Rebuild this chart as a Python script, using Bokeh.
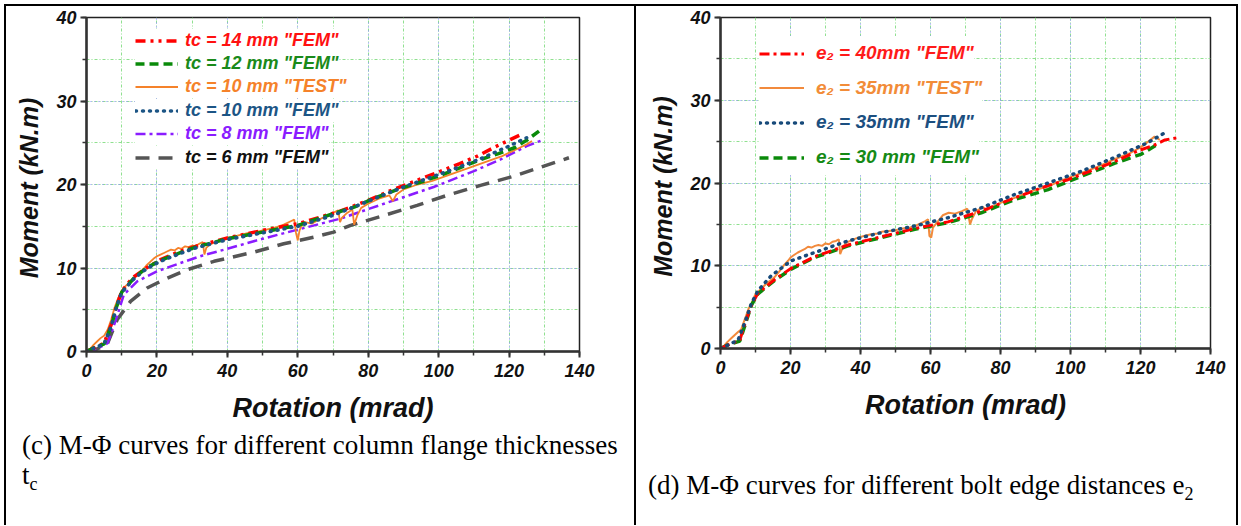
from bokeh.plotting import figure
from bokeh.models import Range1d, SingleIntervalTicker, Legend, LegendItem, Div
from bokeh.layouts import row, column
from bokeh.embed import file_html
from bokeh.resources import INLINE

# ---------------- data: chart (c) column flange thickness ----------------
tc14_x = [0, 2, 5, 7, 8.5, 10, 13, 17, 21, 26, 31, 40, 50, 60, 72, 80, 86, 92, 100, 106, 111, 116, 120, 123.5]
tc14_y = [0, 0.4, 1.0, 3.2, 5.4, 7.2, 8.8, 10.0, 11.0, 11.9, 12.6, 13.6, 14.5, 15.3, 16.8, 18.1, 19.2, 20.2, 21.5, 22.5, 23.4, 24.5, 25.3, 26.0]

tc12_x = [0, 2, 5, 7, 8.5, 10, 13.5, 17, 21, 27, 31, 40, 50, 60, 70, 76, 82, 89, 95, 100.5, 106, 112, 117, 121.5, 125, 128.5]
tc12_y = [0, 0.4, 0.9, 3.0, 5.3, 7.1, 8.8, 10.0, 10.9, 11.9, 12.5, 13.5, 14.3, 15.1, 16.5, 17.3, 18.4, 19.5, 20.3, 21.1, 22.0, 23.0, 23.7, 24.4, 25.3, 26.4]

tc10_test_x = [0, 1, 2, 3, 4, 5, 6, 7, 8, 9, 10, 11, 12, 13, 14.5, 16, 17, 18, 19, 20, 21, 22, 23, 24, 25, 26, 27, 28, 29, 30, 31, 32, 33, 33.5, 34, 35, 36, 38, 40, 42, 44, 46, 48, 50, 52, 54, 56, 58, 59, 59.5, 60, 60.5, 61, 62, 64, 66, 68, 70, 71.5, 72, 72.5, 74, 75.5, 76, 77, 78, 80, 83, 86, 87, 88, 90, 94, 98, 102, 106, 110, 114, 118, 121, 123, 125, 126.5]
tc10_test_y = [0, 0.3, 0.8, 1.2, 1.6, 1.9, 2.6, 3.8, 5.3, 6.4, 7.3, 7.8, 8.2, 8.6, 9.2, 9.8, 10.3, 10.7, 11.1, 11.4, 11.6, 11.8, 12.0, 12.2, 12.1, 12.4, 12.3, 12.6, 12.5, 12.7, 12.6, 12.9, 13.1, 11.6, 12.4, 12.8, 13.0, 13.3, 13.6, 13.8, 14.0, 14.2, 14.3, 14.5, 14.7, 14.9, 15.2, 15.6, 15.8, 14.2, 13.3, 14.5, 15.0, 15.5, 15.3, 15.8, 16.2, 16.6, 16.9, 15.5, 16.0, 16.6, 17.0, 15.2, 16.4, 17.2, 17.7, 18.3, 18.7, 18.0, 18.8, 19.4, 20.0, 20.4, 21.0, 21.6, 22.2, 22.8, 23.4, 24.0, 24.4, 24.8, 25.2]

tc10_fem_x = [0, 2, 5, 7, 8.5, 10, 13.5, 17, 21, 27, 31, 40, 50, 60, 70, 80, 90, 100, 104, 112, 120, 125]
tc10_fem_y = [0, 0.4, 0.9, 3.0, 5.3, 7.1, 8.7, 9.9, 10.8, 11.8, 12.4, 13.4, 14.2, 15.0, 16.3, 18.0, 19.7, 21.2, 21.8, 23.1, 24.6, 25.6]

tc8_x = [0, 3, 6, 8.2, 10.6, 14.4, 20, 26.7, 33, 40, 50, 60, 72, 84.5, 98.6, 110, 117.6, 125, 130]
tc8_y = [0, 0.3, 1.0, 3.6, 6.8, 8.4, 9.6, 10.6, 11.5, 12.3, 13.5, 14.6, 15.9, 17.7, 19.7, 21.6, 23.0, 24.6, 25.4]

tc6_x = [0, 3, 5.9, 8.7, 12.5, 17.2, 22, 28.6, 36.2, 47.5, 56, 64.6, 70.2, 75, 84.5, 93.9, 102.4, 111.9, 121.4, 129.9, 137]
tc6_y = [0, 0.3, 0.9, 3.8, 6.0, 7.6, 8.6, 9.8, 10.8, 11.9, 12.9, 13.7, 14.3, 15.1, 16.3, 17.5, 18.7, 19.9, 21.0, 22.2, 23.2]

labels_c = ['tc = 14 mm "FEM"', 'tc = 12 mm "FEM"', 'tc = 10 mm "TEST"',
            'tc = 10 mm "FEM"', 'tc = 8 mm "FEM"', 'tc = 6 mm "FEM"']

# ---------------- data: chart (d) bolt edge distance ----------------
e40_x = [0, 2, 5.5, 7, 8.8, 10.7, 15.4, 20.2, 26.9, 36.4, 45.9, 55.5, 65, 74.5, 84, 93.6, 99.3, 103, 112.7, 119.4, 124, 127, 130.8]
e40_y = [0, 0.4, 1.0, 3.0, 5.2, 6.7, 8.3, 9.7, 11.1, 12.5, 13.5, 14.5, 15.3, 16.6, 18.2, 19.7, 20.4, 21.0, 22.6, 23.9, 24.6, 25.2, 25.5]

e35_test_x = [0, 1, 2, 3, 4, 5, 5.9, 7, 8, 8.8, 10, 11.6, 13, 15.4, 17, 18, 19.3, 20, 21, 22.1, 23, 24, 25, 26, 27, 28, 29, 30, 31, 32, 33, 33.8, 34.2, 35, 36, 37.5, 39.3, 41, 43, 45, 46, 48, 50, 52, 54, 55.5, 57, 58.5, 59.3, 59.7, 60.2, 60.7, 62, 63.5, 65.2, 67, 69, 70.5, 71.3, 71.8, 73, 75, 76, 78, 80, 84, 88, 93.6, 98, 103, 108, 112.7, 117, 120, 122.2, 124, 125.5]
e35_test_y = [0, 0.3, 0.8, 1.2, 1.6, 2.0, 2.3, 3.6, 4.8, 5.4, 6.6, 7.2, 7.8, 8.6, 9.4, 10.0, 10.6, 11.0, 11.3, 11.6, 11.8, 12.0, 12.3, 12.2, 12.4, 12.5, 12.4, 12.7, 12.6, 12.9, 13.0, 13.2, 11.4, 12.3, 12.8, 13.1, 13.4, 13.6, 13.8, 13.9, 14.1, 14.2, 14.3, 14.5, 14.6, 14.8, 15.1, 15.4, 15.6, 13.6, 13.4, 14.6, 15.3, 16.1, 16.4, 16.3, 16.6, 16.9, 15.0, 15.6, 16.6, 17.1, 16.7, 17.2, 17.6, 18.2, 18.9, 19.6, 20.4, 21.2, 22.0, 22.9, 23.6, 24.3, 25.0, 25.6, 25.2]

e35_fem_x = [0, 2, 5, 7, 8.8, 10.7, 14.5, 20.2, 26.9, 36.4, 45.9, 55.5, 65, 74.5, 84, 93.6, 103, 112.7, 122.2, 127.9]
e35_fem_y = [0, 0.4, 1.0, 3.2, 5.4, 7.0, 8.8, 10.6, 11.6, 13.0, 14.0, 14.8, 15.8, 17.0, 18.6, 20.0, 21.4, 23.1, 24.9, 26.3]

e30_x = [0, 2, 5.5, 7, 8.8, 10.7, 15.4, 20.2, 26.9, 36.4, 45.9, 55.5, 65, 74.5, 84, 93.6, 103, 112.7, 120.3, 125]
e30_y = [0, 0.4, 0.9, 2.8, 5.2, 6.6, 8.2, 9.6, 11.0, 12.4, 13.4, 14.4, 15.2, 16.4, 18.0, 19.2, 20.8, 22.4, 23.5, 24.7]

labels_d = ['e\u2082 = 40mm "FEM"', 'e\u2082 = 35mm "TEST"', 'e\u2082 = 35mm "FEM"', 'e\u2082 = 30 mm "FEM"']

x_ticks_interval = 20
y_ticks_interval = 10

FONT = "Liberation Sans"


def make_fig(width, height, bl, br, bt, bb):
    p = figure(width=width, height=height, x_range=Range1d(0, 140), y_range=Range1d(0, 40),
               output_backend="svg", toolbar_location=None, margin=0,
               min_border_left=bl, min_border_right=br, min_border_top=bt, min_border_bottom=bb,
               x_axis_label="Rotation (mrad)", y_axis_label="Moment  (kN.m)")
    p.background_fill_color = "white"
    p.border_fill_color = "white"
    p.outline_line_color = "#222222"
    p.outline_line_width = 1.5
    xt = SingleIntervalTicker(interval=x_ticks_interval, num_minor_ticks=2)
    yt = SingleIntervalTicker(interval=y_ticks_interval, num_minor_ticks=2)
    p.xaxis.ticker = xt
    p.yaxis.ticker = yt
    p.xgrid.ticker = xt
    p.ygrid.ticker = yt
    for g in (p.xgrid, p.ygrid):
        g.grid_line_color = "#8c8cff"
        g.grid_line_width = 1
        g.grid_line_dash = "1 3"
        g.minor_grid_line_color = "#8fe08f"
        g.minor_grid_line_width = 1
        g.minor_grid_line_dash = "3 2 1 2"
    ax = p.axis
    ax.axis_line_width = 2.5
    ax.axis_line_color = "#333333"
    ax.major_tick_line_width = 2
    ax.major_tick_line_color = "#333333"
    ax.major_tick_out = 6
    ax.major_tick_in = 0
    ax.minor_tick_line_width = 1.5
    ax.minor_tick_line_color = "#333333"
    ax.minor_tick_out = 4
    ax.minor_tick_in = 0
    ax.major_label_text_font = FONT
    ax.major_label_text_font_style = "bold italic"
    ax.major_label_text_font_size = "18px"
    ax.major_label_text_color = "#111111"
    ax.axis_label_text_font = FONT
    ax.axis_label_text_font_style = "bold italic"
    ax.axis_label_text_color = "#111111"
    p.xaxis.axis_label_text_font_size = "27px"
    p.yaxis.axis_label_text_font_size = "25px"
    p.xaxis.major_label_standoff = 6
    p.yaxis.major_label_standoff = 4
    p.xaxis.axis_label_standoff = 13
    p.yaxis.axis_label_standoff = 10
    return p


def add_legend(p, renderer, label, color, x, y, h, glyph_w, standoff, size):
    leg = Legend(items=[LegendItem(label=label, renderers=[renderer])],
                 location=(x, y), orientation="vertical", padding=0, margin=0, spacing=0,
                 label_standoff=standoff, glyph_width=glyph_w, glyph_height=h,
                 label_height=h, label_text_font=FONT,
                 label_text_font_style="bold italic", label_text_font_size=size,
                 label_text_color=color, border_line_color=None,
                 background_fill_color="white", background_fill_alpha=1.0)
    p.add_layout(leg)


# ---------------- chart (c) ----------------
# canvas at page (6, 6) -> frame 86..579 x 17..354
fig_c = make_fig(628, 419, 80, 55, 11, 71)
r6 = fig_c.line(tc6_x, tc6_y, line_color="#555555", line_width=3.5, line_dash="14 9")
r8 = fig_c.line(tc8_x, tc8_y, line_color="#8a1cff", line_width=2.5, line_dash="10 4 3 4")
rt = fig_c.line(tc10_test_x, tc10_test_y, line_color="#f5822a", line_width=1.8)
r14 = fig_c.line(tc14_x, tc14_y, line_color="#ff0000", line_width=3.5, line_dash="10 5 3 5 3 5")
r12 = fig_c.line(tc12_x, tc12_y, line_color="#0a8a0a", line_width=3.5, line_dash="9 5")
r10 = fig_c.line(tc10_fem_x, tc10_fem_y, line_color="#1c5585", line_width=3.5, line_dash="1 6",
                 line_cap="round")

rows_c = [(r14, "#ff1010"), (r12, "#1a8a1a"), (rt, "#f5822a"),
          (r10, "#1c5585"), (r8, "#8a1cff"), (r6, "#111111")]
frame_h_c = 337
h_c = 23
first_c = 26  # centre of first legend row below the frame top
for i, ((r, col), lab) in enumerate(zip(rows_c, labels_c)):
    top = first_c - h_c / 2 + i * 23.4
    add_legend(fig_c, r, lab, col, 49, frame_h_c - top - h_c, h_c, 43, 7, "18px")

# ---------------- chart (d) ----------------
# canvas at page (636, 6) -> frame 720..1210 x 17..348
fig_d = make_fig(600, 419, 84, 26, 11, 77)
rd_t = fig_d.line(e35_test_x, e35_test_y, line_color="#f28a3c", line_width=2)
rd_30 = fig_d.line(e30_x, e30_y, line_color="#0a8a0a", line_width=3.5, line_dash="9 5")
rd_40 = fig_d.line(e40_x, e40_y, line_color="#ff0000", line_width=3, line_dash="10 4 3 4")
rd_35 = fig_d.line(e35_fem_x, e35_fem_y, line_color="#174a7a", line_width=3.5, line_dash="1 6",
                   line_cap="round")

rows_d = [(rd_40, "#ff1a1a"), (rd_t, "#f28c38"), (rd_35, "#1c4f80"), (rd_30, "#158a15")]
frame_h_d = 331
h_d = 35
first_d = 36
for i, ((r, col), lab) in enumerate(zip(rows_d, labels_d)):
    top = first_d - h_d / 2 + i * 34.7
    add_legend(fig_d, r, lab, col, 39, frame_h_d - top - h_d, h_d, 45, 12, "19px")

# ---------------- captions & table borders ----------------
cap_style = ("font-family:'Liberation Serif','Times New Roman',serif;font-size:27px;"
             "line-height:30px;color:#000;white-space:nowrap;margin:0;")
cap_c = Div(width=628, height=100, margin=0,
            text='<div style="' + cap_style + 'padding:5px 0 0 16px;">'
                 '(c) M-\u03a6 curves for different column flange thicknesses<br>'
                 't<sub style="font-size:18px">c</sub></div>')
cap_d = Div(width=600, height=100, margin=0,
            text='<div style="' + cap_style + 'padding:45px 0 0 12px;">'
                 '(d) M-\u03a6 curves for different bolt edge distances e<sub style="font-size:18px">2</sub></div>')


def vline():
    return Div(width=2, height=519, margin=0, styles={"background-color": "#000000"})


top_line = Div(width=1234, height=2, margin=0, styles={"background-color": "#000000"})

body = row(vline(), column(fig_c, cap_c, spacing=0, margin=0), vline(),
           column(fig_d, cap_d, spacing=0, margin=0), vline(), spacing=0, margin=0)
layout = column(top_line, body, spacing=0, margin=(4, 0, 0, 4))

open("out.html", "w").write(file_html(layout, INLINE, title="M-Phi curves"))
